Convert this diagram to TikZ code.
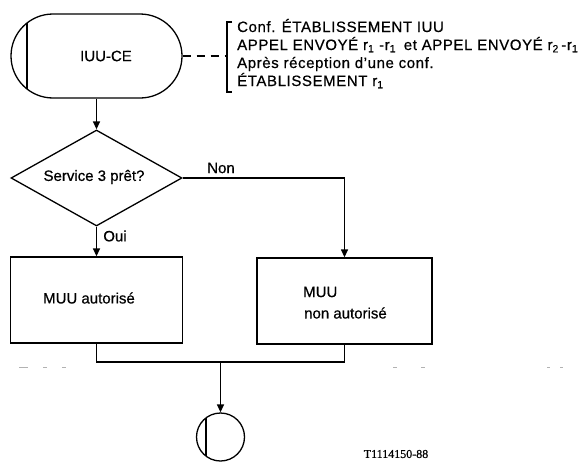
\documentclass[tikz,border=0pt]{standalone}
\usepackage{fontspec}
\setmainfont{Liberation Sans}[FakeBold=0.6]
\newfontfamily\blockfont{Liberation Sans}[LetterSpace=4,FakeBold=0.6]
\newfontfamily\labelfont{Liberation Serif}[FakeBold=0.6]
\usetikzlibrary{arrows.meta,shapes.geometric,shapes.misc}
\tikzset{
  ln/.style={line width=1.3pt, draw=black},
  arr/.style={ln, -{Triangle[length=8pt,width=7pt]}},
  txt/.style={inner sep=0pt, font=\fontsize{15pt}{18pt}\selectfont},
  blocktxt/.style={inner sep=0pt, anchor=base west, font=\blockfont\fontsize{15pt}{18pt}\selectfont},
  boxnode/.style={ln, rectangle, inner sep=0pt},
  faint/.style={line width=1pt, draw=black!30},
}
\begin{document}
\begin{tikzpicture}[x=1pt,y=-1pt]
\useasboundingbox (0,0) rectangle (588,463);
% start pill
\node[ln, rounded rectangle, minimum width=171pt, minimum height=84pt, inner sep=0pt] (iuu) at (96.5,56) {};
\draw[ln] (27,23) -- (27,89);
\node[txt] (iuulbl) at (106,56) {IUU-CE};
% comment bracket
\coordinate (br) at (227,56);
\draw[ln, dash pattern=on 8pt off 6pt] (iuu.east) -- (br);
\draw[ln] (232,22) -- (227,22) -- (227,92) -- (232,92);
\node[blocktxt] (c1) at (237,32) {Conf. ÉTABLISSEMENT IUU};
\node[blocktxt] (c2) at (237,50) {APPEL ENVOYÉ r\textsubscript{1} -r\textsubscript{1}\hspace{3pt} et APPEL ENVOYÉ r\textsubscript{2}\,-r\textsubscript{1}};
\node[blocktxt] (c3) at (237,68) {Après réception d’une conf.};
\node[blocktxt] (c4) at (237,86) {ÉTABLISSEMENT r\textsubscript{1}};
% decision
\node[ln, diamond, minimum width=171pt, minimum height=96pt, inner sep=0pt] (q) at (96.5,178) {};
\node[txt] (qlbl) at (94,177) {Service 3 prêt?};
\draw[arr] (iuu.south) -- (q.north);
% boxes
\node[boxnode, minimum width=171.5pt, minimum height=86pt] (left) at (96.5,300) {};
\node[txt] (leftlbl) at (89,298) {MUU autorisé};
\node[boxnode, minimum width=175pt, minimum height=86pt] (right) at (344.5,301) {};
\node[txt, anchor=west] (rightlbl1) at (303,292) {MUU};
\node[txt, anchor=west] (rightlbl2) at (304,313) {non autorisé};
\draw[arr] (q.south) -- (left.north);
\node[txt] (oui) at (115,236) {Oui};
\draw[arr] (q.east) -| (right.north);
\node[txt] (non) at (221,168) {Non};
% merge
\coordinate (m) at (220.5,362);
\draw[ln] (left.south) |- (m) -| (right.south);
\node[ln, circle, minimum size=48pt, inner sep=0pt] (end) at (220.5,437) {};
\draw[ln] (206,418) -- (206,456);
\draw[arr] (m) -- (end.north);
% faint scan marks
\draw[faint] (19,367) -- (28,367);
\draw[faint] (43,367) -- (47,367);
\draw[faint] (62,367) -- (66,367);
\draw[faint] (393,367) -- (397,367);
\draw[faint] (421,367) -- (425,367);
\draw[faint] (547,367) -- (550,367);
\draw[faint] (560,367) -- (563,367);
% figure reference
\node[inner sep=0pt, font=\labelfont\fontsize{12pt}{14pt}\selectfont] (ref) at (396,454) {T1114150-88};
\end{tikzpicture}
\end{document}
